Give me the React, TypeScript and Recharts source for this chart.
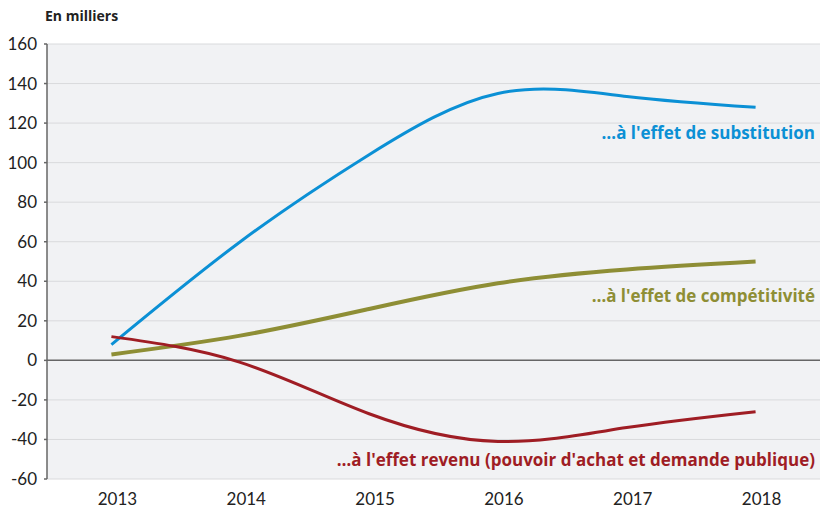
import React from 'react';
import { LineChart, Line, XAxis, YAxis, CartesianGrid, ReferenceLine } from 'recharts';

// années
const years = [2013, 2014, 2015, 2016, 2017, 2018];
// emplois dus à l'effet de substitution, de compétitivité et revenu (en milliers)
const substitution = [8, 60, 104, 135, 133.5, 128];
const competitivite = [3, 12.5, 26, 39, 46, 50];
const revenu = [12, -1, -27, -41, -34, -26];

const yTicks = [-60, -40, -20, 0, 20, 40, 60, 80, 100, 120, 140, 160];
const yearBounds = [2013.5, 2014.5, 2015.5, 2016.5, 2017.5];

const FONT = 'Lato, "Noto Sans", sans-serif';
const LABEL_FONT = '"Open Sans", Lato, sans-serif';
const BLUE = '#0b90d5';
const OLIVE = '#8e8e35';
const RED = '#9f1d24';

const data = years.map((year, i) => ({
  year,
  substitution: substitution[i],
  competitivite: competitivite[i],
  revenu: revenu[i],
}));

const App: React.FC = () => {
  return (
    <div style={{ position: 'absolute', left: 0, top: 0, width: 820, height: 508, fontFamily: FONT }}>
      <LineChart width={820} height={508} data={data} margin={{ top: 44, right: 0, bottom: 0, left: 0 }}>
        <CartesianGrid vertical={false} stroke="#d9dadc" fill="#f1f2f4" />
        <XAxis
          xAxisId="bounds"
          dataKey="year"
          type="number"
          domain={[2012.5, 2018.5]}
          ticks={yearBounds}
          tickFormatter={() => ''}
          height={0}
          tickSize={7}
          stroke="#666"
          strokeWidth={1.5}
        />
        <XAxis
          xAxisId="years"
          dataKey="year"
          type="number"
          domain={[2012.5, 2018.5]}
          ticks={years}
          axisLine={false}
          tickLine={false}
          tickSize={0}
          tickMargin={14}
          height={29}
          tick={{ fill: '#222', fontSize: 17, fontFamily: FONT, dx: 6 }}
        />
        <YAxis
          domain={[-60, 160]}
          ticks={yTicks}
          width={47}
          tickSize={3}
          tickMargin={7}
          stroke="#666"
          strokeWidth={1.5}
          tick={{ fill: '#222', fontSize: 17, fontFamily: FONT }}
        />
        <ReferenceLine xAxisId="years" y={0} stroke="#666" strokeWidth={1.5} />
        <Line xAxisId="years" type="natural" dataKey="substitution" stroke={BLUE} strokeWidth={3} dot={false} isAnimationActive={false} />
        <Line xAxisId="years" type="natural" dataKey="competitivite" stroke={OLIVE} strokeWidth={4} dot={false} isAnimationActive={false} />
        <Line xAxisId="years" type="natural" dataKey="revenu" stroke={RED} strokeWidth={3} dot={false} isAnimationActive={false} />
      </LineChart>
      <svg width={820} height={508} style={{ position: 'absolute', left: 0, top: 0, pointerEvents: 'none' }}>
        <text x={45} y={21} fontSize={14} fontWeight="bold" fill="#222" fontFamily={LABEL_FONT}>En milliers</text>
        <text x={815} y={139} textAnchor="end" fontSize={17} fontWeight="bold" fill={BLUE} fontFamily={LABEL_FONT}>…à l'effet de substitution</text>
        <text x={815} y={302} textAnchor="end" fontSize={17} fontWeight="bold" fill={OLIVE} fontFamily={LABEL_FONT}>…à l'effet de compétitivité</text>
        <text x={815} y={466} textAnchor="end" fontSize={17} fontWeight="bold" fill={RED} fontFamily={LABEL_FONT}>…à l'effet revenu (pouvoir d'achat et demande publique)</text>
      </svg>
    </div>
  );
};

export default App;
